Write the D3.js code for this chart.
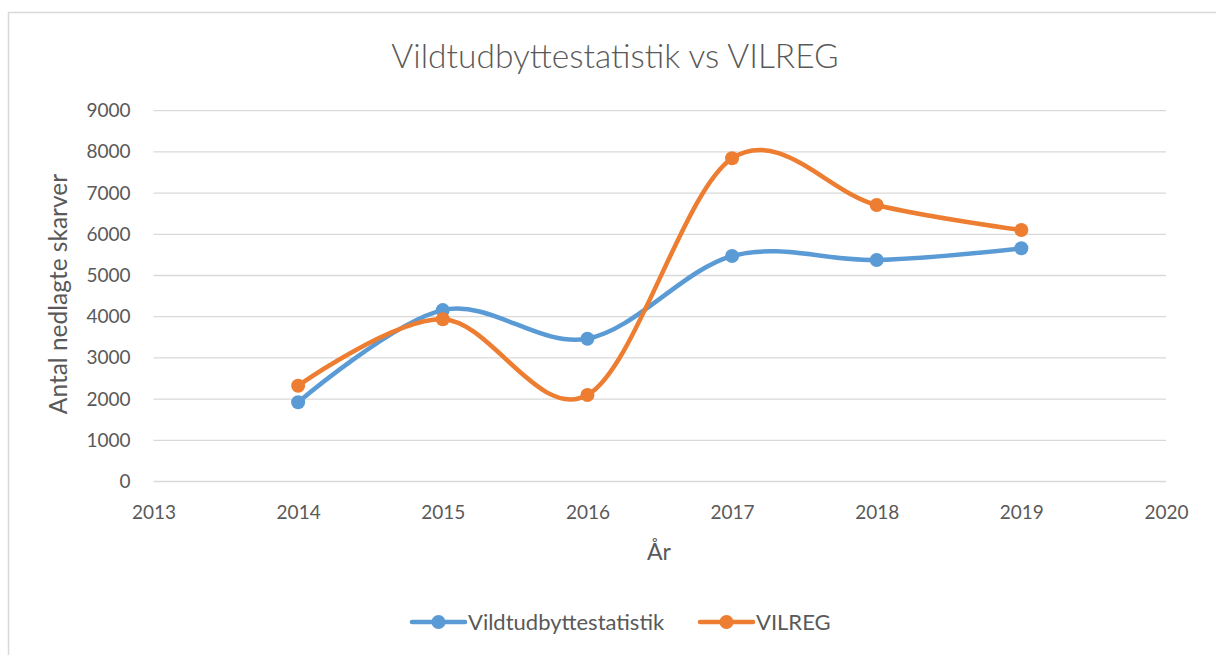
<!DOCTYPE html>
<html><head><meta charset="utf-8">
<script src="https://cdn.jsdelivr.net/npm/d3@7"></script>
<style>body{margin:0;background:#fff;} text{font-family:Lato,"Open Sans",sans-serif;fill:#595959;}</style>
</head><body>
<svg id="c" width="1216" height="655"></svg>
<script>
const years = [2014, 2015, 2016, 2017, 2018, 2019];
const vildtudbytte = [1922, 4160, 3466, 5473, 5376, 5660];
const vilreg = [2325, 3937, 2100, 7845, 6711, 6104];
const xTicks = [2013, 2014, 2015, 2016, 2017, 2018, 2019, 2020];
const yTicks = [0, 1000, 2000, 3000, 4000, 5000, 6000, 7000, 8000, 9000];
const seriesNames = ["Vildtudbyttestatistik", "VILREG"];
const colors = ["#5B9BD5", "#ED7D31"];

const svg = d3.select("#c");
svg.append("rect").attr("x",8.5).attr("y",12.5).attr("width",1230).attr("height",660)
  .attr("fill","#fff").attr("stroke","#D9D9D9").attr("stroke-width",1.5);

const x = d3.scaleLinear().domain([2013, 2020]).range([153.5, 1166]);
const y = d3.scaleLinear().domain([0, 9000]).range([481.5, 110.7]);

// gridlines
svg.append("g").selectAll("line").data(yTicks).join("line")
  .attr("x1", x(2013)).attr("x2", x(2020))
  .attr("y1", d=>y(d)).attr("y2", d=>y(d))
  .attr("stroke","#D9D9D9").attr("stroke-width",1.3);

// y axis labels
const ya = svg.append("g").attr("transform",`translate(${x(2013)},0)`)
  .call(d3.axisLeft(y).tickValues(yTicks).tickSize(0).tickPadding(23).tickFormat(d3.format("d")));
ya.select(".domain").remove();
ya.selectAll("text").attr("font-size",19).attr("fill","#595959").style("font-family","Lato");

// x axis labels
const xa = svg.append("g").attr("transform",`translate(0,${y(0)})`)
  .call(d3.axisBottom(x).tickValues(xTicks).tickSize(0).tickPadding(24).tickFormat(d3.format("d")));
xa.select(".domain").remove();
xa.selectAll("text").attr("font-size",19).attr("fill","#595959").style("font-family","Lato");

// titles
svg.append("text").attr("x",615).attr("y",68).attr("text-anchor","middle")
  .attr("font-size",33.5).attr("font-weight",300).text("Vildtudbyttestatistik vs VILREG");
svg.append("text").attr("x",659).attr("y",560).attr("text-anchor","middle")
  .attr("font-size",23).text("År");
svg.append("text").attr("transform","translate(67,294) rotate(-90)").attr("text-anchor","middle")
  .attr("font-size",24.5).text("Antal nedlagte skarver");

// lines
const data = [vildtudbytte, vilreg];
const line = d3.line().x((d,i)=>x(years[i])).y(d=>y(d)).curve(d3.curveCardinal.tension(0));
data.forEach((vals, s) => {
  svg.append("path").attr("d", line(vals)).attr("fill","none")
    .attr("stroke", colors[s]).attr("stroke-width",4.5).attr("stroke-linecap","round");
  svg.append("g").selectAll("circle").data(vals).join("circle")
    .attr("cx",(d,i)=>x(years[i])).attr("cy",d=>y(d)).attr("r",7).attr("fill",colors[s]);
});

// legend
const legX = [410, 698];
seriesNames.forEach((n, s) => {
  const g = svg.append("g").attr("transform",`translate(${legX[s]},622)`);
  g.append("line").attr("x1",2).attr("x2",55).attr("y1",0).attr("y2",0)
    .attr("stroke",colors[s]).attr("stroke-width",4.5).attr("stroke-linecap","round");
  g.append("circle").attr("cx",28.5).attr("cy",0).attr("r",7).attr("fill",colors[s]);
  g.append("text").attr("x",58).attr("y",8).attr("font-size",22).text(n);
});
</script>
</body></html>
